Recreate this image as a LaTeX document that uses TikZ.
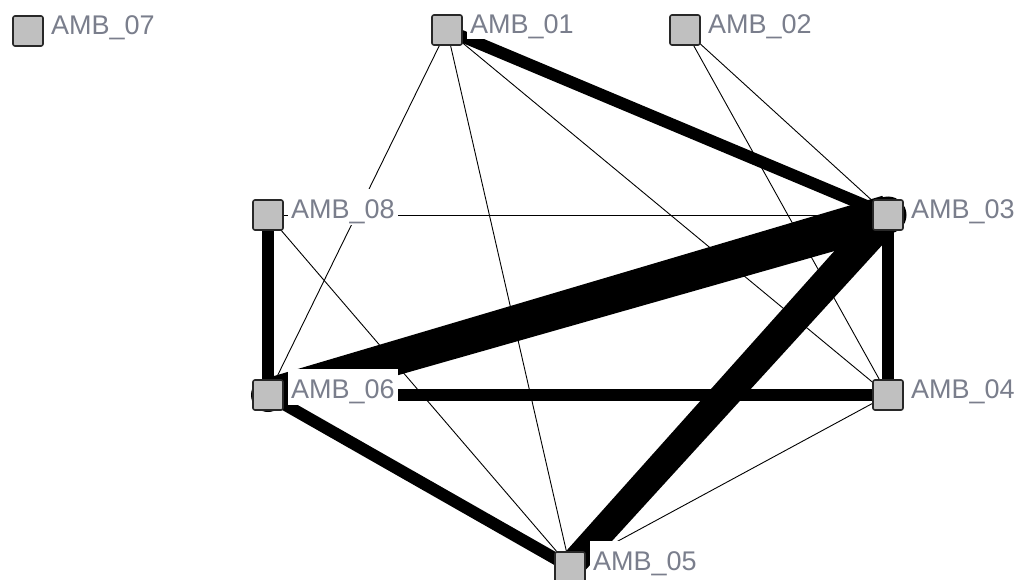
\documentclass[tikz,border=0pt]{standalone}
\usepackage{fontspec}
\newfontfamily\lblfont{Liberation Sans}
\usetikzlibrary{calc}
\pgfdeclarelayer{bglayer}
\pgfdeclarelayer{edgelayer}
\pgfsetlayers{bglayer,edgelayer,main}
\definecolor{sqfill}{RGB}{192,192,192}
\definecolor{sqline}{RGB}{40,40,40}
\definecolor{lblgray}{RGB}{122,126,140}
\tikzset{
  sq/.style={rectangle, minimum size=30pt, inner sep=0pt, outer sep=0pt, fill=sqfill, draw=sqline, line width=1.6pt, rounded corners=2pt},
  lbl/.style={fill=white, inner xsep=3pt, inner ysep=0pt, outer sep=0pt, text height=29.5pt, text depth=6pt, font=\lblfont\fontsize{27}{32}\selectfont, text=lblgray, anchor=base west},
  thin/.style={line width=0.9pt, black},
  thick/.style={line width=12pt, black, line cap=round}
}
\begin{document}
\begin{tikzpicture}[x=1pt,y=-1pt]
\begin{pgfonlayer}{bglayer}
\fill[white] (0,0) rectangle (1022,580);
\end{pgfonlayer}
\useasboundingbox (0,0) rectangle (1022,580);
% squares
\node[sq] (n07) at (28,31) {};
\node[sq] (n01) at (447,30) {};
\node[sq] (n02) at (685,30) {};
\node[sq] (n08) at (268,215) {};
\node[sq] (n03) at (888,215) {};
\node[sq] (n06) at (268,395) {};
\node[sq] (n04) at (888,395) {};
\node[sq] (n05) at (570,567) {};
% labels
\node[lbl] (l07) at ($(n07.center)+(20,3.5)$) {AMB\_07};
\node[lbl] (l01) at ($(n01.center)+(20,3.5)$) {AMB\_01};
\node[lbl] (l02) at ($(n02.center)+(20,3.5)$) {AMB\_02};
\node[lbl] (l08) at ($(n08.center)+(20,3.5)$) {AMB\_08};
\node[lbl] (l03) at ($(n03.center)+(20,3.5)$) {AMB\_03};
\node[lbl] (l06) at ($(n06.center)+(20,3.5)$) {AMB\_06};
\node[lbl] (l04) at ($(n04.center)+(20,3.5)$) {AMB\_04};
\node[lbl] (l05) at ($(n05.center)+(20,3.5)$) {AMB\_05};
\begin{pgfonlayer}{edgelayer}
% thin edges
\draw[thin] (n01.center) -- (n06.center);
\draw[thin] (n01.center) -- (n05.center);
\draw[thin] (n01.center) -- (n04.center);
\draw[thin] (n02.center) -- (n03.center);
\draw[thin] (n02.center) -- (n04.center);
\draw[thin] (n08.center) -- (n03.center);
\draw[thin] (n08.center) -- (n05.center);
\draw[thin] (n04.center) -- (n05.center);
% thick edges
\draw[thick] (n01.center) -- (n03.center);
\draw[thick] (n08.center) -- (n06.center);
\draw[thick] (n06.center) -- (n04.center);
\draw[thick] (n06.center) -- (n05.center);
\draw[thick] (n03.center) -- (n04.center);
% tapered heavy edges
\fill[black] ($(n06.center)!16.5pt!90:(n03.center)$) -- ($(n03.center)!20pt!-90:(n06.center)$)
  -- ($(n03.center)!20pt!90:(n06.center)$) -- ($(n06.center)!16.5pt!-90:(n03.center)$) -- cycle;
\fill[black] (n06.center) circle (17pt);
\fill[black] (n03.center) circle (18.5pt);
\fill[black] ($(n05.center)!13.5pt!90:(n03.center)$) -- ($(n03.center)!16pt!-90:(n05.center)$)
  -- ($(n03.center)!16pt!90:(n05.center)$) -- ($(n05.center)!13.5pt!-90:(n03.center)$) -- cycle;
\fill[black] (n05.center) circle (13.5pt);
\end{pgfonlayer}
\end{tikzpicture}
\end{document}
